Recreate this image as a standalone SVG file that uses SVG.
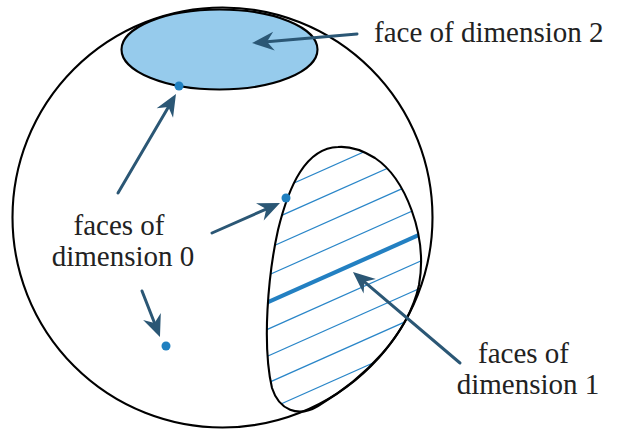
<svg xmlns="http://www.w3.org/2000/svg" width="618" height="430" viewBox="0 0 618 430">
<style>
.outline{fill:none;stroke:#000;stroke-width:2.1}
.hatch{stroke:#2a86c8;stroke-width:1.2;fill:none}
.thick{stroke:#2380c2;stroke-width:4.2;fill:none}
.dot{fill:#2080c0}
.arrow{stroke:#2b5775;stroke-width:3;fill:none;stroke-linecap:round;marker-end:url(#head)}
.lbl{font-family:"Liberation Serif","Times New Roman",serif;font-size:29px;fill:#222}
</style>
<defs>
<marker id="head" markerUnits="userSpaceOnUse" orient="auto" refX="0" refY="0" markerWidth="30" markerHeight="30" overflow="visible">
<path d="M12,0 L-10,-9.5 L-3,0 L-10,9.5 Z" fill="#2b5775"/>
</marker>
<clipPath id="blobclip">
<path d="M338,147 C306,148 289,185 278,230 C268,275 262,345 272,388 C279,410 298,418 318,406 C365,378 408,335 419,285 C428,235 405,178 375,158 C362,150 350,146 338,147 Z"/>
</clipPath>
</defs>
<g id="sphere">
<circle cx="222.5" cy="217.5" r="210" class="outline"/>
</g>
<g id="face2">
<ellipse cx="219.5" cy="49.5" rx="98" ry="40" fill="#96cbec" stroke="#000" stroke-width="2.1"/>
</g>
<g id="face1">
<g clip-path="url(#blobclip)">
<line class="hatch" x1="250" y1="202.6" x2="440" y2="118.0"/>
<line class="hatch" x1="250" y1="229.5" x2="440" y2="144.9"/>
<line class="hatch" x1="250" y1="256.4" x2="440" y2="171.8"/>
<line class="hatch" x1="250" y1="283.3" x2="440" y2="198.7"/>
<line class="thick" x1="250" y1="310.2" x2="440" y2="225.6"/>
<line class="hatch" x1="250" y1="337.1" x2="440" y2="252.5"/>
<line class="hatch" x1="250" y1="364.0" x2="440" y2="279.4"/>
<line class="hatch" x1="250" y1="390.9" x2="440" y2="306.3"/>
<line class="hatch" x1="250" y1="417.8" x2="440" y2="333.2"/>
</g>
<path class="outline" d="M338,147 C306,148 289,185 278,230 C268,275 262,345 272,388 C279,410 298,418 318,406 C365,378 408,335 419,285 C428,235 405,178 375,158 C362,150 350,146 338,147 Z"/>
</g>
<g id="vertices">
<circle class="dot" cx="179" cy="86" r="4.5"/>
<circle class="dot" cx="286" cy="198" r="4.5"/>
<circle class="dot" cx="166" cy="346" r="4.5"/>
</g>
<g id="connectors">
<line class="arrow" x1="118" y1="193" x2="169.9" y2="104.4"/>
<line class="arrow" x1="212" y1="233" x2="269" y2="207.8"/>
<line class="arrow" x1="142" y1="291" x2="155.6" y2="325.8"/>
<line class="arrow" x1="357" y1="34" x2="264" y2="42"/>
<line class="arrow" x1="460" y1="363" x2="362.1" y2="279.8"/>
</g>
<g id="labels">
<text class="lbl" x="374" y="42">face of dimension 2</text>
<text class="lbl" x="119" y="235" text-anchor="middle">faces of</text>
<text class="lbl" x="123" y="266" text-anchor="middle">dimension 0</text>
<text class="lbl" x="523.5" y="363" text-anchor="middle">faces of</text>
<text class="lbl" x="528" y="393.5" text-anchor="middle">dimension 1</text>
</g>
</svg>
